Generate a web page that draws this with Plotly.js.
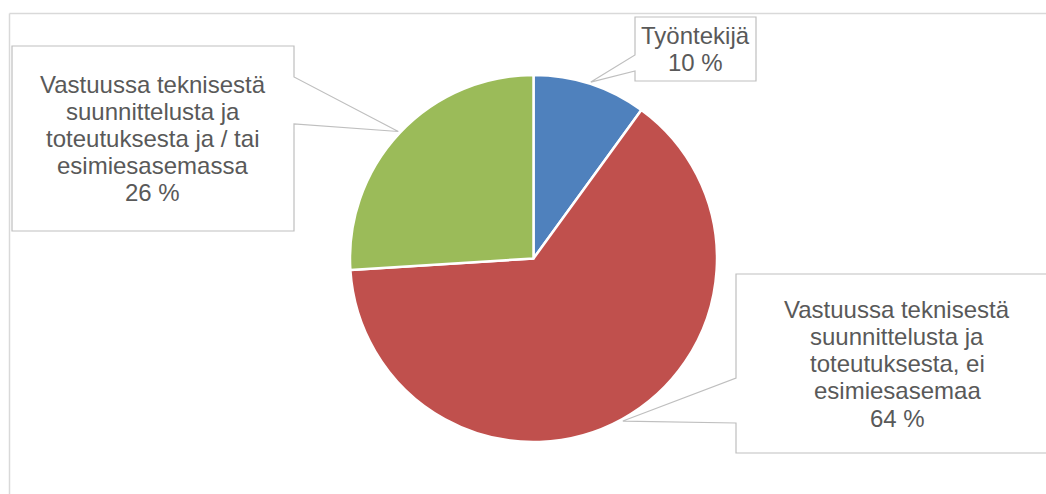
<!DOCTYPE html>
<html>
<head>
<meta charset="utf-8">
<script src="https://cdn.plot.ly/plotly-3.0.1.min.js"></script>
<style>html,body{margin:0;padding:0;background:#fff;}#chart{width:1046px;height:494px;}</style>
</head>
<body>
<div id="chart"></div>
<script>
// Data
const categories = ["Työntekijä", "Vastuussa teknisestä suunnittelusta ja toteutuksesta, ei esimiesasemaa", "Vastuussa teknisestä suunnittelusta ja toteutuksesta ja / tai esimiesasemassa"];
const values = [10, 64, 26];
const labelLines = [
  ["Työntekijä", "10 %"],
  ["Vastuussa teknisestä", "suunnittelusta ja", "toteutuksesta, ei", "esimiesasemaa", "64 %"],
  ["Vastuussa teknisestä", "suunnittelusta ja", "toteutuksesta ja / tai", "esimiesasemassa", "26 %"]
];
const colors = ["#4F81BD", "#C0504D", "#9BBB59"];

// Layout geometry (pixels)
const W = 1046, H = 494;
const cx = 533.5, cy = 258.5, R = 183.5;
const px = x => x / W;
const py = y => 1 - y / H;

// Callout boxes: [x0, y0, x1, y1, side, wedgeA, wedgeB, textCx]
const boxes = [
  {x0: 635, y0: 17, x1: 756, y1: 81, side: "left", a: 55, b: 71, tx: 695},
  {x0: 736, y0: 274, x1: 1058, y1: 453, side: "left", a: 378, b: 423, tx: 897},
  {x0: 12, y0: 46, x1: 294, y1: 231, side: "right", a: 77, b: 124, tx: 152.5}
];

const total = values.reduce((s, v) => s + v, 0);
let cum = 0;
const shapes = [];
const annotations = [];
const lineGap = 27.25;

values.forEach((v, i) => {
  const mid = (cum + v / 2) / total * 2 * Math.PI;
  cum += v;
  const tipX = cx + (R + 2) * Math.sin(mid);
  const tipY = cy - (R + 2) * Math.cos(mid);
  const b = boxes[i];
  let path;
  if (b.side === "left") {
    path = `M${px(b.x0)},${py(b.y0)} L${px(b.x1)},${py(b.y0)} L${px(b.x1)},${py(b.y1)} L${px(b.x0)},${py(b.y1)} L${px(b.x0)},${py(b.b)} L${px(tipX)},${py(tipY)} L${px(b.x0)},${py(b.a)} Z`;
  } else {
    path = `M${px(b.x0)},${py(b.y0)} L${px(b.x1)},${py(b.y0)} L${px(b.x1)},${py(b.a)} L${px(tipX)},${py(tipY)} L${px(b.x1)},${py(b.b)} L${px(b.x1)},${py(b.y1)} L${px(b.x0)},${py(b.y1)} Z`;
  }
  shapes.push({type: "path", xref: "paper", yref: "paper", path: path,
    fillcolor: "#FFFFFF", line: {color: "#BFBFBF", width: 1.2}, layer: "above"});
  const lines = labelLines[i];
  const bc = (b.y0 + b.y1) / 2;
  lines.forEach((t, k) => {
    const yy = bc + (k - (lines.length - 1) / 2) * lineGap;
    annotations.push({xref: "paper", yref: "paper", x: px(b.tx), y: py(yy),
      xanchor: "center", yanchor: "middle", showarrow: false, text: t,
      font: {family: "Liberation Sans, Arial, sans-serif", size: 24, color: "#595959"}});
  });
});

// Outer chart frame (top and left edges visible)
shapes.push({type: "line", xref: "paper", yref: "paper", x0: px(9.5), y0: py(13.5), x1: px(1046), y1: py(13.5), line: {color: "#D9D9D9", width: 1.5}, layer: "below"});
shapes.push({type: "line", xref: "paper", yref: "paper", x0: px(9.5), y0: py(13.5), x1: px(9.5), y1: py(494), line: {color: "#D9D9D9", width: 1.5}, layer: "below"});

const trace = {
  type: "pie",
  labels: categories,
  values: values,
  sort: false,
  direction: "clockwise",
  rotation: 0,
  marker: {colors: colors, line: {color: "#FFFFFF", width: 2.5}},
  textinfo: "none",
  hoverinfo: "none",
  showlegend: false,
  domain: {x: [px(cx - R), px(cx + R)], y: [py(cy + R), py(cy - R)]}
};

const layout = {
  width: W, height: H,
  margin: {l: 0, r: 0, t: 0, b: 0},
  paper_bgcolor: "#FFFFFF",
  plot_bgcolor: "#FFFFFF",
  showlegend: false,
  shapes: shapes,
  annotations: annotations
};

Plotly.newPlot("chart", [trace], layout, {displayModeBar: false, staticPlot: true});
</script>
</body>
</html>
